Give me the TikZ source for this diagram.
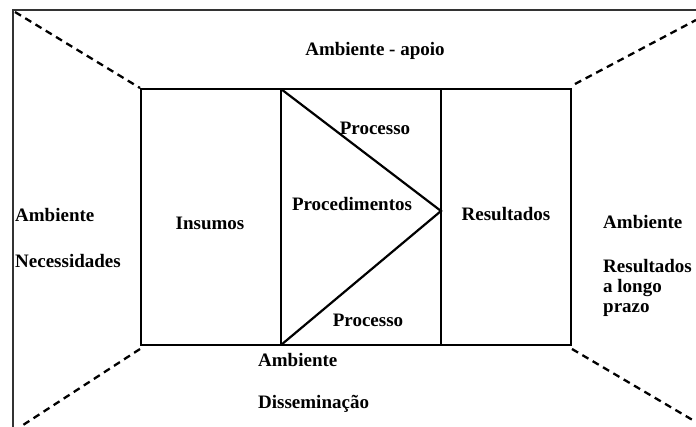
\documentclass[tikz,border=0pt]{standalone}
\usepackage{fontspec}
\setmainfont{Liberation Serif}
\begin{document}
\begin{tikzpicture}[x=1pt,y=-1pt,
  lbl/.style={font=\fontsize{19}{21}\selectfont\bfseries, inner sep=0pt},
  boxline/.style={line width=2.2pt},
  frameline/.style={line width=2.6pt, draw=black!80},
  dashline/.style={line width=2.3pt, dash pattern=on 7pt off 5pt}]
\useasboundingbox (0,0) rectangle (696,427);
% frame
\coordinate (fTL) at (13,10);
\coordinate (fTR) at (696,10);
\coordinate (fBL) at (13,427);
\draw[frameline] (fBL) -- (fTL) -- (fTR);
% main box corners
\coordinate (bTL) at (141,89);
\coordinate (bTR) at (571,89);
\coordinate (bBL) at (141,345);
\coordinate (bBR) at (571,345);
\coordinate (tT) at (281,89);
\coordinate (tB) at (281,345);
\coordinate (rT) at (441,89);
\coordinate (rB) at (441,345);
\coordinate (apex) at (441,211);
\draw[boxline] (bTL) rectangle (bBR);
\draw[boxline] (tT) -- (tB);
\draw[boxline] (rT) -- (rB);
\draw[boxline] (tT) -- (apex) -- (tB);
% dashed perspective lines
\coordinate (dTL) at (15,12);
\coordinate (dTR) at (696,20);
\coordinate (dBL) at (20,427);
\coordinate (dBR) at (696,422);
\draw[dashline] (dTL) -- (140,88);
\draw[dashline] (575,84) -- (dTR);
\draw[dashline] (140,349) -- (dBL);
\draw[dashline] (572,349) -- (dBR);
% labels
\node[lbl] (apoio) at (375,51) {Ambiente - apoio};
\node[lbl] (proc1) at (375,128) {Processo};
\node[lbl] (procd) at (352,204) {Procedimentos};
\node[lbl] (insumos) at (210,223) {Insumos};
\node[lbl] (result) at (506,214) {Resultados};
\node[lbl] (proc2) at (368,320) {Processo};
\node[lbl, anchor=west] (ambB) at (258,360) {Ambiente};
\node[lbl, anchor=west] (dissem) at (258,404) {Disseminação};
\node[lbl, anchor=west] (ambL) at (15,215) {Ambiente};
\node[lbl, anchor=west] (necess) at (15,261) {Necessidades};
\node[lbl, anchor=west] (ambR) at (603,222) {Ambiente};
\node[lbl, anchor=west] (resR) at (603,266) {Resultados};
\node[lbl, anchor=west] (longo) at (603,288) {a longo};
\node[lbl, anchor=west] (prazo) at (603,310) {prazo};
\end{tikzpicture}
\end{document}
